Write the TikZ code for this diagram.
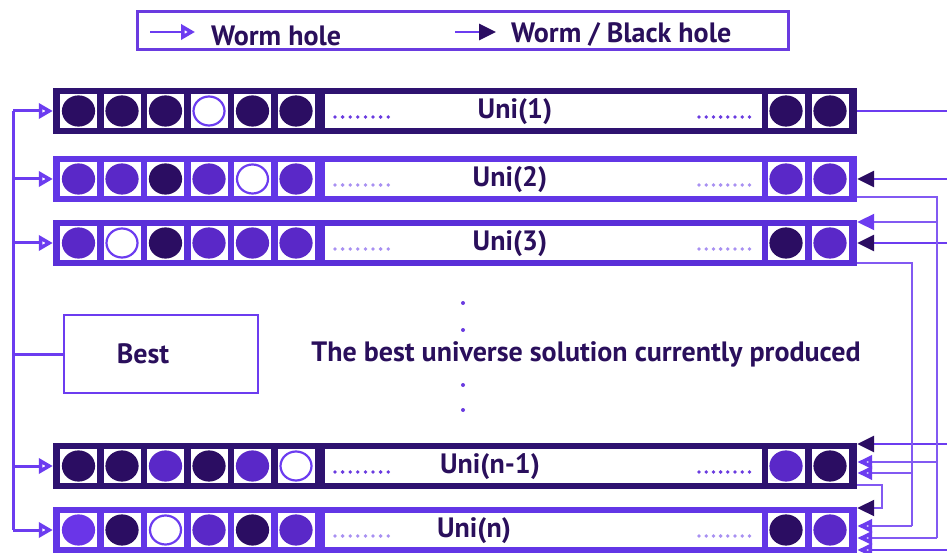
\documentclass[tikz,border=0pt]{standalone}
\usepackage{fontspec}
\setmainfont{PT Sans}
\usetikzlibrary{arrows.meta,calc}
\definecolor{cd}{HTML}{2B0D62}
\definecolor{cm}{HTML}{5A28C8}
\definecolor{cv}{HTML}{6A35E8}
\definecolor{cl}{HTML}{6C3CF0}
\definecolor{bd}{HTML}{2E1270}
\definecolor{bl}{HTML}{6236E6}
\definecolor{bm}{HTML}{5A2FD8}
\definecolor{tx}{HTML}{2A0F5C}
\definecolor{dl}{HTML}{6A3BE0}
\definecolor{dp}{HTML}{A890F2}
\pgfarrowsdeclarealias{myopen}{myopen}{Triangle}{Triangle}
\tikzset{
  rowbox/.style={rectangle, minimum width=804pt, minimum height=46pt, inner sep=0pt, draw=none},
  unilabel/.style={text=tx, font=\fontsize{28}{32}\selectfont\bfseries, inner sep=0pt},
  lline/.style={draw=cl, line width=3pt},
  iline/.style={draw=cl!85!white, line width=2pt},
  eline/.style={draw=cl, line width=2.6pt},
  openL/.style={-{Triangle[length=14pt, width=15pt, line width=4.5pt, fill=white, color=cl]}},
  openR/.style={-{Triangle[length=15pt, width=13pt, line width=4pt, fill=white, color=cl]}},
  fillR/.style={-{Triangle[length=17pt, width=16pt, fill=#1, color=#1]}},
}
\newcommand\unirow[7]{%
  \node[rowbox, fill=#3] (#1) at (455,#2) {};
  \foreach \f/\d [count=\i] in {#4} {
    \pgfmathsetmacro\cx{ifthenelse(\i<7, 35+43.5*\i, 786+44*(\i-7))}
    \fill[white] (\cx-18.5,#2-17) rectangle (\cx+18.5,#2+17);
    \draw[fill=\f, draw=\d, line width=2.2pt] (\cx,#2) ellipse (15.5pt and 14.5pt);
  }
  \fill[white] (325,#2-17) rectangle (762,#2+17);
  \node[unilabel] (#1l) at (#6,#2-1) {#5};
  \foreach \k in {0,...,7} {
    \fill[#7] (335+7.6*\k,#2-6) circle (1.9pt);
    \fill[#7] (699+7.2*\k,#2-6) circle (1.9pt);
  }
}
\begin{document}
\begin{tikzpicture}[x=1pt,y=1pt]
\useasboundingbox[fill=white] (0,0) rectangle (947,552);

% legend
\node[draw=dl, line width=3pt, minimum width=651pt, minimum height=38pt, inner sep=0pt] (legend) at (462.5,521) {};
\coordinate (la1) at (150,520);
\coordinate (la2) at (195,520);
\coordinate (lb1) at (455,520);
\coordinate (lb2) at (496,520);
\draw[lline, line width=2.8pt, openL] (la1) -- (la2);
\draw[lline, line width=2.8pt, fillR=cd] (lb1) -- (lb2);
\node[unilabel, anchor=west] (lt1) at (211,516) {Worm hole};
\node[unilabel, anchor=west] (lt2) at (511,518) {Worm / Black hole};

% rows
\unirow{u1}{441}{bd}{cd/cd,cd/cd,cd/cd,white/cl,cd/cd,cd/cd,cd/cd,cd/cd}{Uni(1)}{515}{dl}
\unirow{u2}{373}{bl}{cm/cm,cm/cm,cd/cd,cm/cm,white/cl,cm/cm,cm/cm,cm/cm}{Uni(2)}{510}{dp}
\unirow{u3}{309}{bm}{cm/cm,white/cl,cd/cd,cm/cm,cm/cm,cm/cm,cd/cd,cm/cm}{Uni(3)}{510}{dp}
\unirow{un1}{86}{bd}{cd/cd,cd/cd,cm/cm,cd/cd,cm/cm,white/cl,cm/cm,cd/cd}{Uni(n-1)}{490}{dl}
\unirow{un}{22}{bl}{cv/cv,cd/cd,white/cl,cm/cm,cd/cd,cm/cm,cd/cd,cm/cm}{Uni(n)}{474}{dp}

% middle
\foreach \yy [count=\j] in {249,222,167,142} {
  \fill[dl] (463,\yy) circle (2pt);
}
\node[unilabel] (mid) at (586,198) {The best universe solution currently produced};

% best
\node[draw=cl, line width=2.6pt, minimum width=194pt, minimum height=78pt, inner sep=0pt] (best) at (161,198) {};
\node[unilabel] (bestl) at (143,198) {Best};

% left bus
\coordinate (lbus) at (13,0);
\draw[lline] (lbus |- u1.west) -- (lbus |- un.west);
\foreach \r in {u1,u2,u3,un1,un} {
  \draw[lline, openL] (lbus |- \r.west) -- (\r.west);
}
\draw[lline] (lbus |- best.west) -- (best.west);

% right side
\coordinate (redge) at (947,0);
\coordinate (xa) at (937,0);
\coordinate (xb) at (912,0);
\coordinate (xc) at (882,0);
\coordinate (u2o) at ($(u2.east)+(0,-18)$);
\coordinate (u3i) at ($(u3.east)+(0,21)$);
\coordinate (u3o) at ($(u3.east)+(0,-20)$);
\coordinate (n1a) at ($(un1.east)+(0,22)$);
\coordinate (n1b) at ($(un1.east)+(0,4)$);
\coordinate (n1c) at ($(un1.east)+(0,-7)$);
\coordinate (n1o) at ($(un1.east)+(0,-19)$);
\coordinate (na) at ($(un.east)+(0,22)$);
\coordinate (nb) at ($(un.east)+(0,4)$);
\coordinate (nc) at ($(un.east)+(0,-8)$);
\coordinate (nd) at ($(un.east)+(0,-20)$);

\draw[eline] (u1.east) -- (redge |- u1.east);
\draw[eline, fillR=cd] (redge |- u2.east) -- (u2.east);
\draw[eline, fillR=cd] (redge |- u3.east) -- (u3.east);
\draw[eline, fillR=cd] (redge |- n1a) -- (n1a);
\draw[eline, openR] (redge |- nd) -- (nd);

% worm hole from Uni(2)
\draw[iline] (u2o) -- (u2o -| xa) -- (nc -| xa);
\draw[iline, fillR=cl] (u3i -| xa) -- (u3i);
\draw[iline, openR] (n1b -| xa) -- (n1b);
\draw[iline, openR] (nc -| xa) -- (nc);
% worm hole from Uni(3)
\draw[iline] (u3o) -- (u3o -| xb) -- (nb -| xb);
\draw[iline, openR] (n1c -| xb) -- (n1c);
\draw[iline, openR] (nb -| xb) -- (nb);
% from Uni(n-1)
\draw[iline, fillR=cd] (n1o) -- (n1o -| xc) -- (na -| xc) -- (na);
\end{tikzpicture}
\end{document}
